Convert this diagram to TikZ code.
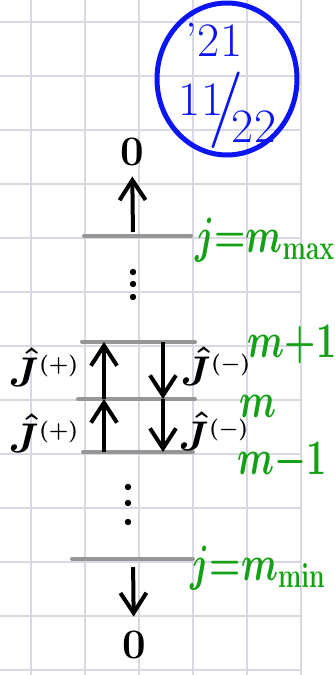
\documentclass[tikz,border=0pt]{standalone}
\usepackage{amsmath}
\usetikzlibrary{arrows.meta}
\definecolor{gridc}{RGB}{216,216,226}
\definecolor{levelc}{RGB}{150,150,150}
\definecolor{inkgreen}{RGB}{20,160,20}
\definecolor{inkblue}{RGB}{10,20,245}

\begin{document}
\begin{tikzpicture}[x=0.5pt,y=-0.5pt,
level/.style={levelc,line width=2pt,line cap=round},
ladder/.style={line width=2pt,-{Straight Barb[length=10pt,width=13pt]}},
note/.style={inkgreen,font=\fontsize{24}{24}\selectfont\boldmath,xscale=0.72},
op/.style={font=\fontsize{22}{22}\selectfont\boldmath,inner sep=1pt},
zero/.style={font=\fontsize{21}{21}\selectfont\bfseries,inner sep=2pt},
date/.style={inkblue,font=\fontsize{24}{24}\selectfont}]

 \useasboundingbox (0,0) rectangle (335,675);
 % squared paper
 \foreach \Y in {22,76,...,670} \draw[gridc,line width=1pt] (0,\Y) -- (301,\Y);
 \foreach \X in {31,85,...,301} \draw[gridc,line width=1pt] (\X,0) -- (\X,675);

 % date in the corner
 \draw[inkblue,line width=2.5pt] (227,79) ellipse (70 and 76);
 \node[date] (yr) at (214,40) {'21};
 \node[date] (mon) at (201,100) {11};
 \node[date,scale=1.6] (sl) at (226,110) {/};
 \node[date] (day) at (254,127) {22};

 % levels
 \foreach \n/\y/\xl/\xr in {max/236/84/191,up/342/82/195,mid/399/78/195,low/452/83/193,min/559/72/193} {
 \coordinate (\n L) at (\xl,\y);
 \coordinate (\n R) at (\xr,\y);
 \draw[level] (\n L) -- (\n R);
 }

 \coordinate (colC) at (133,0);
 \coordinate (colU) at (104,0);
 \coordinate (colD) at (163,0);

 \node[zero] (top0) at (132,152) {0};
 \node[zero] (bot0) at (134,645) {0};

 \draw[ladder,shorten <=2pt,shorten >=3pt] (maxL -| colC) -- (top0);
 \draw[ladder,shorten <=4pt,shorten >=5pt] (minL -| colC) -- (bot0);

 \draw[ladder] (lowL -| colU) -- (midL -| colU);
 \draw[ladder] (midL -| colU) -- (upL -| colU);
 \draw[ladder] (upL -| colD) -- (midL -| colD);
 \draw[ladder] (midL -| colD) -- (lowL -| colD);

 \foreach \Y in {272,284,297} \fill (133,\Y) circle (3.2);
 \foreach \Y in {487,503,522} \fill (128,\Y) circle (3.2);

 % ladder operators
 \node[op] (Jp1) at (44,367) {$\hat{J}^{\scriptscriptstyle(+)}$};
 \node[op] (Jp2) at (44,433) {$\hat{J}^{\scriptscriptstyle(+)}$};
 \node[op] (Jm1) at (216,366) {$\hat{J}^{\scriptscriptstyle(-)}$};
 \node[op] (Jm2) at (214,431) {$\hat{J}^{\scriptscriptstyle(-)}$};

 % eigenvalues
 \node[note] (jmax) at (265,240) {$j{=}m_{\max}$};
 \node[note] (jmin) at (258,568) {$j{=}m_{\min}$};
 \node[note] (mp) at (292,345) {$m{+}1$};
 \node[note] (m0) at (258,406) {$m$};
 \node[note] (mm) at (282,462) {$m{-}1$};

\end{tikzpicture}
\end{document}
